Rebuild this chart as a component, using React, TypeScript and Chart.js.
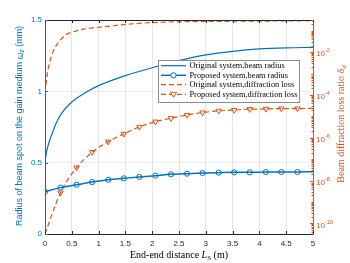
import React, { useEffect, useRef } from "react";
import { Chart, registerables } from "chart.js";
Chart.register(...registerables);

const BLUE = "#0072BD";
const ORANGE = "#D95319";
const DARK = "#262626";

const xTicks = [0, 0.5, 1, 1.5, 2, 2.5, 3, 3.5, 4, 4.5, 5];
const xTickLabels = ["0", "0.5", "1", "1.5", "2", "2.5", "3", "3.5", "4", "4.5", "5"];
const leftTicks = [0, 0.5, 1, 1.5];
const leftTickLabels = ["0", "0.5", "1", "1.5"];
const rightTickValues = [1e-10, 1e-8, 1e-6, 1e-4, 1e-2];
const rightTickExps = ["-10", "-8", "-6", "-4", "-2"];

// Original system, beam radius (mm)
const origRadiusX = [0, 0.02, 0.05, 0.1, 0.2, 0.3, 0.5, 0.75, 1, 1.5, 2, 2.5, 3, 3.5, 4, 4.5, 5];
const origRadiusY = [0.5, 0.56, 0.61, 0.67, 0.77, 0.84, 0.925, 0.99, 1.04, 1.11, 1.165, 1.215, 1.255, 1.28, 1.297, 1.305, 1.308];

// Proposed system, beam radius (mm)
const propRadiusX = [0, 0.29, 0.59, 0.88, 1.18, 1.47, 1.76, 2.06, 2.35, 2.65, 2.94, 3.24, 3.53, 3.82, 4.12, 4.41, 4.71, 5];
const propRadiusY = [0.296, 0.325, 0.345, 0.364, 0.38, 0.39, 0.4, 0.409, 0.418, 0.423, 0.427, 0.43, 0.432, 0.432, 0.434, 0.435, 0.435, 0.436];
const propRadiusMarker = [1, 1, 1, 1, 1, 1, 1, 1, 1, 1, 1, 1, 1, 1, 1, 1, 1, 0];

// Original system, diffraction loss ratio
const origLossX = [0, 0.04, 0.09, 0.15, 0.24, 0.37, 0.52, 0.72, 0.96, 1.5, 2, 3, 4, 5];
const origLossY = [1.2e-4, 8.5e-4, 3.5e-3, 1.05e-2, 2.6e-2, 6.0e-2, 8.8e-2, 0.118, 0.14, 0.195, 0.24, 0.27, 0.28, 0.295];

// Proposed system, diffraction loss ratio
const propLossX = [0, 0.29, 0.59, 0.88, 1.18, 1.47, 1.76, 2.06, 2.35, 2.65, 2.94, 3.24, 3.53, 3.82, 4.12, 4.41, 4.71, 5];
const propLossY = [3.2e-11, 2.7e-9, 4.0e-8, 2.1e-7, 6.5e-7, 1.5e-6, 3.2e-6, 5.6e-6, 8.1e-6, 1.15e-5, 1.5e-5, 1.8e-5, 1.95e-5, 2.15e-5, 2.2e-5, 2.3e-5, 2.3e-5, 2.35e-5];
const propLossMarker = [0, 1, 1, 1, 1, 1, 1, 1, 1, 1, 1, 1, 1, 1, 1, 1, 1, 0];

const legendLabels = [
  "Original system,beam radius",
  "Proposed system,beam radius",
  "Original system,diffraction loss",
  "Proposed system,diffraction loss",
];

type Part = { t: string; it?: boolean; sub?: boolean; sup?: boolean };

function drawRich(ctx: CanvasRenderingContext2D, parts: Part[], x: number, y: number, fs: number, family: string, align: "center" | "left") {
  const fontFor = (p: Part) => `${p.it ? "italic " : ""}${p.sub || p.sup ? fs * 0.7 : fs}px ${family}`;
  let w = 0;
  for (const p of parts) {
    ctx.font = fontFor(p);
    w += ctx.measureText(p.t).width;
  }
  let cx = align === "center" ? x - w / 2 : x;
  ctx.textAlign = "left";
  ctx.textBaseline = "middle";
  for (const p of parts) {
    ctx.font = fontFor(p);
    const dy = p.sub ? fs * 0.3 : p.sup ? -fs * 0.4 : 0;
    ctx.fillText(p.t, cx, y + dy);
    cx += ctx.measureText(p.t).width;
  }
}

const decor = {
  id: "decor",
  afterDraw(chart: any) {
    const ctx: CanvasRenderingContext2D = chart.ctx;
    const a = chart.chartArea;
    const xs = chart.scales.x;
    const yl = chart.scales.y;
    const yr = chart.scales.y2;
    ctx.save();
    ctx.lineWidth = 1;
    // top border
    ctx.strokeStyle = DARK;
    ctx.beginPath();
    ctx.moveTo(a.left, a.top + 0.5);
    ctx.lineTo(a.right, a.top + 0.5);
    ctx.stroke();
    // x ticks (inward), bottom and top
    ctx.beginPath();
    for (const v of xTicks) {
      const px = Math.round(xs.getPixelForValue(v)) + 0.5;
      ctx.moveTo(px, a.bottom);
      ctx.lineTo(px, a.bottom - 3);
      ctx.moveTo(px, a.top);
      ctx.lineTo(px, a.top + 3);
    }
    ctx.stroke();
    // left ticks
    ctx.strokeStyle = BLUE;
    ctx.beginPath();
    for (const v of leftTicks) {
      const py = Math.round(yl.getPixelForValue(v)) + 0.5;
      ctx.moveTo(a.left, py);
      ctx.lineTo(a.left + 3, py);
    }
    ctx.stroke();
    // right ticks major + minor
    ctx.strokeStyle = ORANGE;
    ctx.beginPath();
    for (let k = -11; k <= 0; k++) {
      for (let m = 1; m <= 9; m++) {
        const v = m * Math.pow(10, k);
        if (v < yr.min || v > yr.max) continue;
        const py = Math.round(yr.getPixelForValue(v)) + 0.5;
        const len = m === 1 && k % 2 === 0 ? 3 : 1.5;
        ctx.moveTo(a.right, py);
        ctx.lineTo(a.right - len, py);
      }
    }
    ctx.stroke();
    // right tick labels
    ctx.fillStyle = ORANGE;
    rightTickValues.forEach((v, i) => {
      const py = yr.getPixelForValue(v);
      drawRich(ctx, [{ t: "10" }, { t: rightTickExps[i], sup: true }], a.right + 3, py + 2, 8, "'Liberation Sans', Arial, sans-serif", "left");
    });

    // legend
    const lx0 = 158, ly0 = 60.5, lx1 = 299, ly1 = 102.5;
    ctx.fillStyle = "#ffffff";
    ctx.fillRect(lx0, ly0, lx1 - lx0, ly1 - ly0);
    ctx.strokeStyle = "#8c8c8c";
    ctx.strokeRect(lx0 + 0.5, ly0, lx1 - lx0, ly1 - ly0);
    const rows = [65.7, 75.3, 84.7, 94.3];
    const sx0 = 161, sx1 = 186, mx = 173.5;
    rows.forEach((ry, i) => {
      const col = i < 2 ? BLUE : ORANGE;
      ctx.strokeStyle = col;
      ctx.lineWidth = i === 1 ? 1.5 : 1.2;
      ctx.setLineDash(i >= 2 ? [5, 3] : []);
      ctx.beginPath();
      ctx.moveTo(sx0, ry);
      ctx.lineTo(sx1, ry);
      ctx.stroke();
      ctx.setLineDash([]);
      ctx.lineWidth = 1;
      if (i === 1) {
        ctx.beginPath();
        ctx.arc(mx, ry, 2.6, 0, Math.PI * 2);
        ctx.fillStyle = "#fff";
        ctx.fill();
        ctx.stroke();
      }
      if (i === 3) {
        ctx.beginPath();
        ctx.moveTo(mx - 3, ry - 2);
        ctx.lineTo(mx + 3, ry - 2);
        ctx.lineTo(mx, ry + 3);
        ctx.closePath();
        ctx.fillStyle = "#fff";
        ctx.fill();
        ctx.stroke();
      }
      ctx.fillStyle = "#000";
      ctx.font = "8.3px 'Liberation Serif', 'Times New Roman', serif";
      ctx.textAlign = "left";
      ctx.textBaseline = "middle";
      ctx.fillText(legendLabels[i], 189.5, ry + 0.5);
    });

    // axis titles
    ctx.fillStyle = "#000";
    drawRich(ctx, [{ t: "End-end distance " }, { t: "L", it: true }, { t: "S", sub: true }, { t: " (m)" }], 179, 255, 10, "'Liberation Serif', 'Times New Roman', serif", "center");

    ctx.save();
    ctx.translate(20, 126);
    ctx.rotate(-Math.PI / 2);
    ctx.fillStyle = BLUE;
    drawRich(ctx, [{ t: "Radius of beam spot on the gain medium " }, { t: "ω", it: true }, { t: "z", it: true, sub: true }, { t: " (mm)" }], 0, 0, 9, "'Liberation Sans', Arial, sans-serif", "center");
    ctx.restore();

    ctx.save();
    ctx.translate(341, 124);
    ctx.rotate(-Math.PI / 2);
    ctx.fillStyle = ORANGE;
    drawRich(ctx, [{ t: "Beam diffraction loss ratio " }, { t: "δ", it: true }, { t: "d", it: true, sub: true }], 0, 0, 10, "'Liberation Serif', 'Times New Roman', serif", "center");
    ctx.restore();

    ctx.restore();
  },
};

export default function App() {
  const ref = useRef<HTMLCanvasElement>(null);
  useEffect(() => {
    if (!ref.current) return;
    const pts = (xs: number[], ys: number[]) => xs.map((x, i) => ({ x, y: ys[i] }));
    const chart = new Chart(ref.current, {
      type: "line",
      data: {
        datasets: [
          {
            label: legendLabels[0],
            data: pts(origRadiusX, origRadiusY),
            yAxisID: "y",
            borderColor: BLUE,
            borderWidth: 1.2,
            pointRadius: 0,
            cubicInterpolationMode: "monotone",
          },
          {
            label: legendLabels[1],
            data: pts(propRadiusX, propRadiusY),
            yAxisID: "y",
            borderColor: BLUE,
            backgroundColor: "rgba(255,255,255,0)",
            borderWidth: 1.5,
            pointRadius: propRadiusMarker.map((m) => (m ? 2.6 : 0)),
            pointBorderWidth: 1,
            pointStyle: "circle",
            cubicInterpolationMode: "monotone",
          },
          {
            label: legendLabels[2],
            data: pts(origLossX, origLossY),
            yAxisID: "y2",
            borderColor: ORANGE,
            borderWidth: 1.2,
            borderDash: [5, 3],
            pointRadius: 0,
            cubicInterpolationMode: "monotone",
          },
          {
            label: legendLabels[3],
            data: pts(propLossX, propLossY),
            yAxisID: "y2",
            borderColor: ORANGE,
            backgroundColor: "rgba(255,255,255,0)",
            borderWidth: 1.2,
            borderDash: [5, 3],
            pointRadius: propLossMarker.map((m) => (m ? 3.2 : 0)),
            pointBorderWidth: 1,
            pointStyle: "triangle",
            pointRotation: 180,
            cubicInterpolationMode: "monotone",
          },
        ],
      },
      options: {
        responsive: false,
        animation: false,
        devicePixelRatio: 1,
        layout: { padding: { top: 20, left: 0, right: 0, bottom: 0 } },
        plugins: { legend: { display: false }, tooltip: { enabled: false } },
        scales: {
          x: {
            type: "linear",
            min: 0,
            max: 5,
            afterBuildTicks: (s: any) => {
              s.ticks = xTicks.map((v) => ({ value: v }));
            },
            afterFit: (s: any) => {
              s.height = 29;
            },
            ticks: {
              padding: 5,
              color: DARK,
              font: { size: 8, family: "'Liberation Sans', Arial, sans-serif" },
              callback: (v: any) => xTickLabels[xTicks.indexOf(Number(v))] ?? "",
              maxRotation: 0,
              autoSkip: false,
            },
            grid: { color: "rgba(0,0,0,0.1)", drawTicks: false },
            border: { color: DARK, width: 1 },
          },
          y: {
            type: "linear",
            position: "left",
            min: 0,
            max: 1.5,
            afterBuildTicks: (s: any) => {
              s.ticks = leftTicks.map((v) => ({ value: v }));
            },
            afterFit: (s: any) => {
              s.width = 45;
            },
            ticks: {
              padding: 3,
              color: BLUE,
              font: { size: 8, family: "'Liberation Sans', Arial, sans-serif" },
              callback: (v: any) => leftTickLabels[leftTicks.indexOf(Number(v))] ?? "",
            },
            grid: { color: "rgba(0,114,189,0.1)", drawTicks: false },
            border: { color: BLUE, width: 1 },
          },
          y2: {
            type: "logarithmic",
            position: "right",
            min: Math.pow(10, -10.5),
            max: Math.pow(10, -0.5),
            afterBuildTicks: (s: any) => {
              s.ticks = rightTickValues.map((v) => ({ value: v }));
            },
            afterFit: (s: any) => {
              s.width = 37;
            },
            ticks: { display: false },
            grid: { display: false, drawTicks: false },
            border: { color: ORANGE, width: 1 },
          },
        },
      },
      plugins: [decor],
    } as any);
    return () => chart.destroy();
  }, []);
  return (
    <canvas
      ref={ref}
      width={350}
      height={263}
      style={{ position: "fixed", left: 0, top: 0, display: "block" }}
    />
  );
}
